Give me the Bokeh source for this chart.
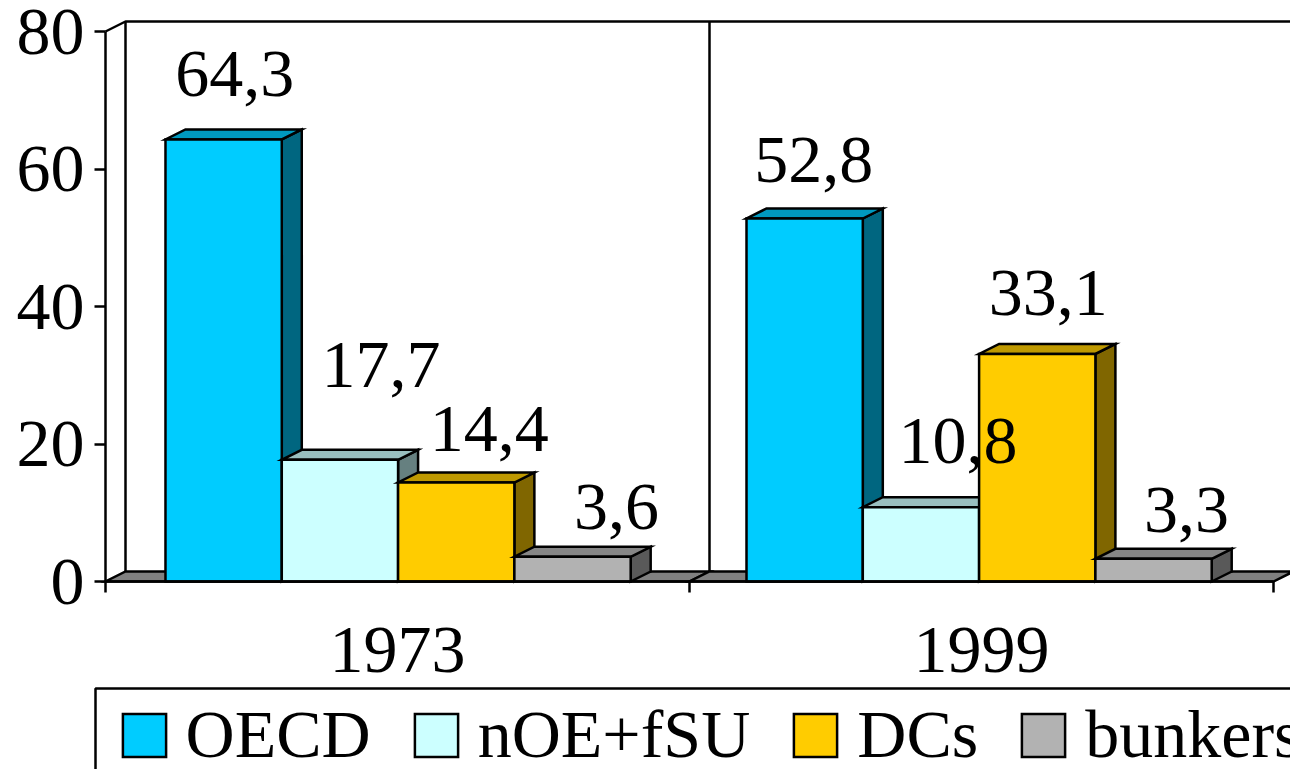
from bokeh.plotting import figure
from bokeh.models import Range1d, LinearAxis, FixedTicker, Legend, LegendItem, ColumnDataSource
from bokeh.core.properties import value
from bokeh.embed import file_html
from bokeh.resources import INLINE

# ---- data -------------------------------------------------------------
years = ["1973", "1999"]
oecd = [64.3, 52.8]
noe_fsu = [17.7, 10.8]
dcs = [14.4, 33.1]
bunkers = [3.6, 3.3]
series_names = ["OECD", "nOE+fSU", "DCs", "bunkers"]
y_ticks = [0, 20, 40, 60, 80]

# ---- style / layout ----------------------------------------------------
FONT = "Liberation Serif"
FS = "68px"
W, H = 1290, 769
PX_PER_CAT = 584.0
PX_PER_VAL = 6.875
ORIGIN_X, ORIGIN_Y = 105.0, 581.0  # figure pixel position of (0, 0)
DX = 20 / PX_PER_CAT               # 3-D depth in data units
DY = 10 / PX_PER_VAL
BAR_W = 116.3 / PX_PER_CAT
GROUP_START = [0.1027, 1.0976]
FRONT = ["#00CCFF", "#CCFFFF", "#FFCC00", "#B2B2B2"]
TOP = ["#0099BF", "#99BFBF", "#BF9900", "#868686"]
SIDE = ["#006680", "#668080", "#806600", "#595959"]
# label nudges in pixels, per series per year (hand placed in the original)
LABEL_DX = [[11, 41, 33, 44], [9, 37, 11, 33]]
LABEL_DY = [[-41, -71, -30, -26], [-35, -42, -37, -25]]
LABEL_BASE = -24
LW = 2.5

p = figure(width=W, height=H, output_backend="svg", toolbar_location=None,
           x_axis_type=None, y_axis_type=None, min_border=0, outline_line_color=None,
           x_range=Range1d(-ORIGIN_X / PX_PER_CAT, (W - ORIGIN_X) / PX_PER_CAT),
           y_range=Range1d(-(H - ORIGIN_Y) / PX_PER_VAL, ORIGIN_Y / PX_PER_VAL))
p.grid.visible = False


def px_x(px):
    return (px - ORIGIN_X) / PX_PER_CAT


def px_y(px):
    return (ORIGIN_Y - px) / PX_PER_VAL


# floor
n = len(years)
p.patches(xs=[[i, i + 1, i + 1 + DX, i + DX] for i in range(n)],
          ys=[[0, 0, DY, DY] for _ in range(n)],
          fill_color="#808080", line_color="black", line_width=LW, line_join="miter")
# back walls
top = y_ticks[-1]
p.line([0, DX, n + DX], [top, top + DY, top + DY], line_color="black", line_width=LW)
p.segment(x0=[i + DX for i in range(n)], y0=[DY] * n,
          x1=[i + DX for i in range(n)], y1=[top + DY] * n,
          line_color="black", line_width=LW)

# bars
all_series = [oecd, noe_fsu, dcs, bunkers]
legend_items = []
for g in range(n):
    for s, vals in enumerate(all_series):
        v = vals[g]
        x0 = GROUP_START[g] + s * BAR_W
        x1 = x0 + BAR_W
        p.patch([x1, x1 + DX, x1 + DX, x1], [0, DY, v + DY, v],
                fill_color=SIDE[s], line_color="black", line_width=LW, line_join="miter")
        p.patch([x0, x1, x1 + DX, x0 + DX], [v, v, v + DY, v + DY],
                fill_color=TOP[s], line_color="black", line_width=LW, line_join="miter")
        r = p.quad(left=x0, right=x1, bottom=0, top=v,
                   fill_color=FRONT[s], line_color="black", line_width=LW, line_join="miter")
        if g == 0:
            legend_items.append(LegendItem(label=series_names[s], renderers=[r]))

# value labels
lx, ly, lt, ldx, ldy = [], [], [], [], []
for g in range(n):
    for s, vals in enumerate(all_series):
        lx.append(GROUP_START[g] + (s + 0.5) * BAR_W)
        ly.append(vals[g])
        lt.append(f"{vals[g]:.1f}".replace(".", ","))
        ldx.append(LABEL_DX[g][s])
        ldy.append(LABEL_DY[g][s] + LABEL_BASE)
src = ColumnDataSource(dict(x=lx, y=ly, t=lt, dx=ldx, dy=ldy))
p.text("x", "y", text="t", x_offset="dx", y_offset="dy", source=src, text_align="center",
       text_baseline="alphabetic", text_font=value(FONT), text_font_size=FS, text_color="black")

# axes
yaxis = LinearAxis(fixed_location=0, bounds=(0, top), ticker=FixedTicker(ticks=y_ticks))
yaxis.major_tick_out = 11
yaxis.major_tick_in = 0
yaxis.minor_tick_out = 0
yaxis.minor_tick_in = 0
yaxis.axis_line_width = LW
yaxis.major_tick_line_width = LW
yaxis.major_label_standoff = 10
yaxis.major_label_text_font = FONT
yaxis.major_label_text_font_size = FS
yaxis.major_label_text_color = "black"
p.add_layout(yaxis, "left")

edge_ticks = list(range(n + 1))
xaxis = LinearAxis(fixed_location=0, bounds=(0, n), ticker=FixedTicker(ticks=edge_ticks),
                   major_label_overrides={t: "" for t in edge_ticks})
xaxis.major_tick_out = 11
xaxis.major_tick_in = 0
xaxis.minor_tick_out = 0
xaxis.minor_tick_in = 0
xaxis.axis_line_width = LW
xaxis.major_tick_line_width = LW
xaxis.major_label_text_font_size = "1px"
p.add_layout(xaxis, "below")

cat_ticks = [i + 0.5 for i in range(n)]
cat = LinearAxis(fixed_location=0, ticker=FixedTicker(ticks=cat_ticks),
                 major_label_overrides={t: y for t, y in zip(cat_ticks, years)})
cat.axis_line_color = None
cat.major_tick_line_color = None
cat.minor_tick_line_color = None
cat.major_tick_out = 0
cat.major_label_standoff = 46
cat.major_label_text_font = FONT
cat.major_label_text_font_size = FS
cat.major_label_text_color = "black"
p.add_layout(cat, "below")

# legend frame runs off the right and bottom edges, as in the original
p.quad(left=px_x(95), right=px_x(W + 10), top=px_y(688), bottom=px_y(H + 10),
       fill_color=None, line_color="black", line_width=LW)
legend = Legend(items=legend_items, orientation="horizontal", location=(116.6, -5),
                padding=0, margin=0, spacing=38, label_standoff=15,
                glyph_width=54, glyph_height=54,
                label_text_font=FONT, label_text_font_size=FS, label_text_color="black",
                border_line_color=None, background_fill_alpha=0)
p.add_layout(legend)

open("out.html", "w").write(file_html(p, INLINE))
